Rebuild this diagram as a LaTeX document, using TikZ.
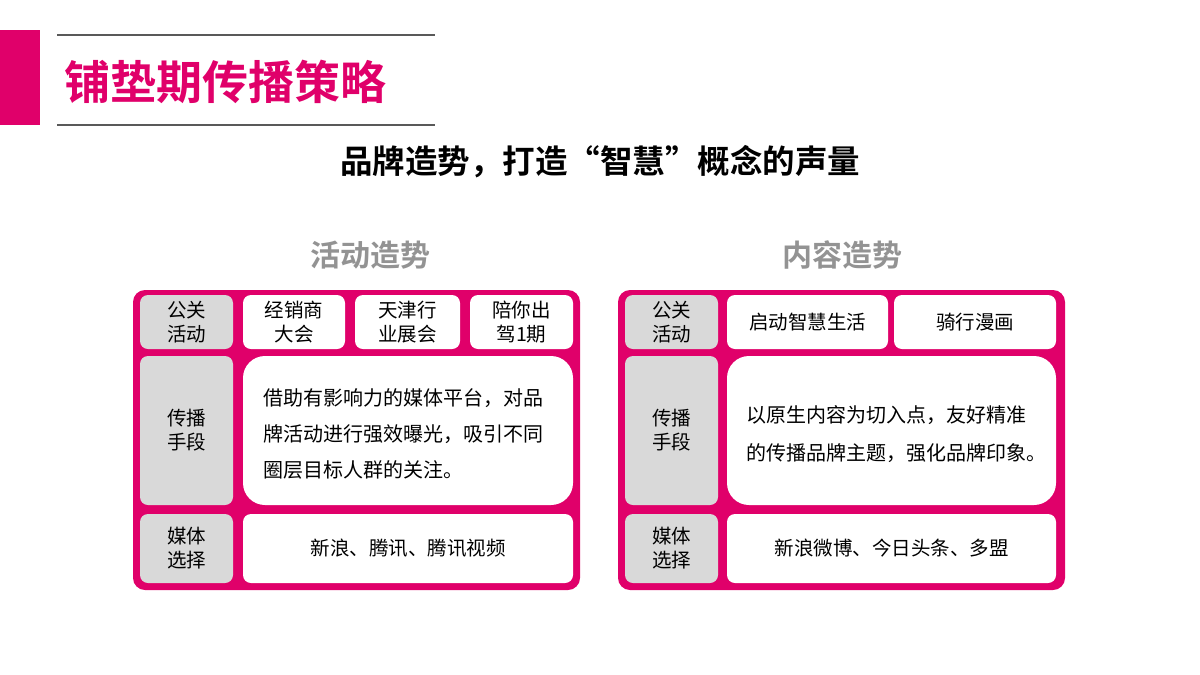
\documentclass[tikz,border=0pt]{standalone}
\usepackage{fontspec}
\setmainfont{Noto Sans CJK SC}
\newfontfamily\cjkb{Noto Sans CJK SC Bold}
\definecolor{pk}{HTML}{E0006A}
\definecolor{gc}{HTML}{D9D9D9}
\begin{document}
\begin{tikzpicture}[x=1pt,y=-1pt,
  gcell/.style={fill=gc,rounded corners=8pt,inner sep=0pt,align=center,font=\fontsize{19.5}{24}\selectfont},
  wcell/.style={fill=white,rounded corners=8pt,inner sep=0pt,align=center,font=\fontsize{19.5}{24}\selectfont},
  panel/.style={fill=pk,rounded corners=12pt,inner sep=0pt},
  head/.style={font=\cjkb\fontsize{30}{33}\selectfont,text=gray!85}]
\useasboundingbox (0,0) rectangle (1200,675);
\fill[pk] (0,30) rectangle (40,125);
\draw[gray!70!black,line width=1.2pt] (57,35) coordinate (l1a) -- (435,35) coordinate (l1b);
\draw[gray!70!black,line width=1.2pt] (57,125) coordinate (l2a) -- (435,125) coordinate (l2b);
\node[anchor=west,text=pk,font=\cjkb\fontsize{46}{50}\selectfont,inner sep=0pt] (title) at (64,82) {铺垫期传播策略};
\node[font=\cjkb\fontsize{32.5}{36}\selectfont,inner sep=0pt] (sub) at (600,162) {品牌造势，打造“智慧”概念的声量};
\node[head] (h1) at (370,255) {活动造势};
\node[head] (h2) at (842,255) {内容造势};
% left panel
\path[panel] (133,290) rectangle (580,590);
\node[gcell,minimum width=93pt,minimum height=54pt] (lg1) at (186.5,322) {公关\\活动};
\node[gcell,minimum width=93pt,minimum height=149pt] (lg2) at (186.5,430.5) {传播\\手段};
\node[gcell,minimum width=93pt,minimum height=69pt] (lg3) at (186.5,548.5) {媒体\\选择};
\node[wcell,minimum width=102pt,minimum height=54pt] (la) at (294,322) {经销商\\大会};
\node[wcell,minimum width=105pt,minimum height=54pt] (lb) at (407.5,322) {天津行\\业展会};
\node[wcell,minimum width=103pt,minimum height=54pt] (lc) at (521.5,322) {陪你出\\驾1期};
\node[wcell,minimum width=330pt,minimum height=149pt,rounded corners=22pt] (ld) at (408,430.5) {};
\node[align=left,font=\fontsize{20}{36}\selectfont,anchor=west,inner sep=0pt] (ldt) at (263,434) {借助有影响力的媒体平台，对品\\牌活动进行强效曝光，吸引不同\\圈层目标人群的关注。};
\node[wcell,minimum width=330pt,minimum height=69pt] (le) at (408,548.5) {新浪、腾讯、腾讯视频};
% right panel
\path[panel] (618,290) rectangle (1065,590);
\node[gcell,minimum width=93pt,minimum height=54pt] (rg1) at (671.5,322) {公关\\活动};
\node[gcell,minimum width=93pt,minimum height=149pt] (rg2) at (671.5,430.5) {传播\\手段};
\node[gcell,minimum width=93pt,minimum height=69pt] (rg3) at (671.5,548.5) {媒体\\选择};
\node[wcell,minimum width=161pt,minimum height=54pt] (ra) at (807.5,322) {启动智慧生活};
\node[wcell,minimum width=162pt,minimum height=54pt] (rb) at (975,322) {骑行漫画};
\node[wcell,minimum width=329pt,minimum height=149pt,rounded corners=22pt] (rd) at (891.5,430.5) {};
\node[align=left,font=\fontsize{20}{38}\selectfont,anchor=west,inner sep=0pt] (rdt) at (746,434) {以原生内容为切入点，友好精准\\的传播品牌主题，强化品牌印象。};
\node[wcell,minimum width=329pt,minimum height=69pt] (re) at (891.5,548.5) {新浪微博、今日头条、多盟};
\end{tikzpicture}
\end{document}
